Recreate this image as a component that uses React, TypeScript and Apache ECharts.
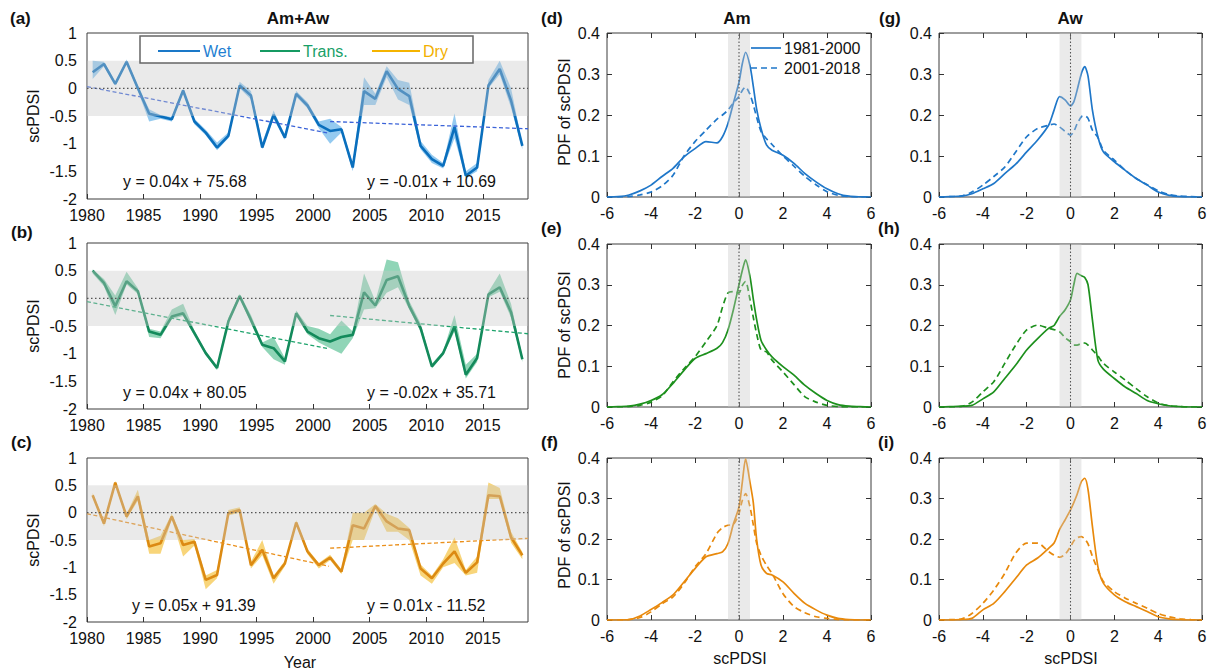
import React, { useEffect, useRef } from "react";
import * as echarts from "echarts";

const FONT = '"Liberation Sans", Arial, Helvetica, sans-serif';
const OVERLAY = "rgba(200,200,200,0.38)";

const YEARS = Array.from({ length: 39 }, (_, i) => 1980 + i);

const WET = [0.29, 0.44, 0.08, 0.48, 0.0, -0.46, -0.51, -0.56, -0.04, -0.6,
  -0.8, -1.07, -0.86, 0.05, -0.13, -1.07, -0.48, -0.89, -0.1, -0.31,
  -0.66, -0.77, -0.74, -1.43, -0.05, -0.19, 0.31, -0.01, -0.14, -1.04,
  -1.28, -1.4, -0.7, -1.58, -1.43, 0.05, 0.35, -0.22, -1.04];
const WET_LO = [0.17, 0.4, 0.05, 0.45, -0.05, -0.6, -0.55, -0.6, -0.08, -0.65,
  -0.85, -1.12, -0.9, 0.0, -0.2, -1.1, -0.55, -0.93, -0.15, -0.36,
  -0.72, -1.0, -0.8, -1.5, -0.3, -0.3, 0.2, -0.2, -0.3, -1.1,
  -1.35, -1.45, -0.9, -1.62, -1.5, 0.0, 0.25, -0.35, -1.1];
const WET_HI = [0.5, 0.48, 0.12, 0.52, 0.05, -0.38, -0.48, -0.52, 0.0, -0.55,
  -0.75, -0.98, -0.8, 0.12, -0.05, -0.98, -0.4, -0.84, -0.05, -0.25,
  -0.6, -0.55, -0.7, -1.35, 0.2, -0.1, 0.4, 0.15, 0.1, -0.95,
  -1.2, -1.35, -0.45, -1.5, -1.35, 0.15, 0.5, 0.0, -1.0];

const TRANS = [0.5, 0.28, -0.14, 0.31, 0.13, -0.6, -0.66, -0.33, -0.27, -0.63,
  -0.99, -1.26, -0.42, 0.04, -0.39, -0.84, -0.9, -1.14, -0.27, -0.6,
  -0.72, -0.78, -0.7, -0.66, 0.11, -0.13, 0.33, 0.4, -0.14, -0.54,
  -1.23, -0.99, -0.51, -1.38, -1.08, 0.07, 0.2, -0.25, -1.1];
const TRANS_LO = [0.45, 0.22, -0.3, 0.25, 0.08, -0.7, -0.72, -0.38, -0.32, -0.68,
  -1.03, -1.3, -0.46, 0.0, -0.45, -0.88, -1.1, -1.2, -0.32, -0.65,
  -0.8, -0.9, -1.0, -0.72, -0.2, -0.18, 0.1, 0.2, -0.2, -0.6,
  -1.27, -1.03, -0.6, -1.45, -1.15, 0.02, 0.12, -0.35, -1.15];
const TRANS_HI = [0.52, 0.35, 0.05, 0.48, 0.18, -0.55, -0.6, -0.2, -0.1, -0.58,
  -0.95, -1.22, -0.35, 0.08, -0.3, -0.8, -0.7, -1.08, -0.22, -0.5,
  -0.55, -0.65, -0.4, -0.6, 0.45, -0.05, 0.7, 0.65, -0.05, -0.45,
  -1.18, -0.95, -0.3, -1.2, -1.0, 0.12, 0.45, -0.1, -1.05];

const DRY = [0.32, -0.2, 0.55, -0.07, 0.3, -0.62, -0.56, -0.07, -0.59, -0.53,
  -1.23, -1.14, -0.01, 0.05, -0.96, -0.68, -1.2, -0.93, -0.18, -0.71,
  -0.96, -0.82, -1.08, -0.23, -0.29, 0.12, -0.16, -0.29, -0.32, -1.02,
  -1.2, -0.93, -0.71, -1.1, -0.91, 0.32, 0.3, -0.45, -0.78];
const DRY_LO = [0.28, -0.25, 0.5, -0.12, 0.22, -0.75, -0.75, -0.12, -0.8, -0.6,
  -1.4, -1.2, -0.05, 0.0, -1.02, -0.78, -1.3, -0.98, -0.22, -0.76,
  -1.02, -0.87, -1.12, -0.5, -0.5, 0.06, -0.35, -0.35, -0.5, -1.15,
  -1.3, -1.0, -0.92, -1.15, -1.1, 0.25, 0.25, -0.55, -0.85];
const DRY_HI = [0.36, -0.15, 0.58, -0.02, 0.42, -0.5, -0.42, -0.02, -0.5, -0.48,
  -1.15, -1.05, 0.05, 0.1, -0.9, -0.5, -1.15, -0.88, -0.14, -0.66,
  -0.92, -0.77, -1.04, 0.0, 0.0, 0.16, -0.02, -0.1, -0.28, -0.95,
  -1.15, -0.85, -0.45, -1.05, -0.8, 0.55, 0.45, -0.35, -0.72];

const WET_TREND = [[[1980, 0.03], [2001.4, -0.81]], [[2001.5, -0.6], [2019, -0.73]]];
const TRANS_TREND = [[[1980, -0.06], [2001.4, -0.91]], [[2001.5, -0.31], [2019, -0.64]]];
const DRY_TREND = [[[1980, -0.02], [2001.4, -0.98]], [[2001.5, -0.65], [2019, -0.47]]];

const EQ_WET = ["y = 0.04x + 75.68", "y = -0.01x + 10.69"];
const EQ_TRANS = ["y = 0.04x + 80.05", "y = -0.02x + 35.71"];
const EQ_DRY = ["y = 0.05x + 91.39", "y = 0.01x - 11.52"];

const PDF_X = [-6, -5.5, -5, -4.5, -4, -3.5, -3, -2.5, -2, -1.5, -1, -0.75, -0.5, -0.25, 0, 0.15, 0.3, 0.5, 0.65, 0.8, 1, 1.25, 1.5, 2, 2.5, 3, 3.5, 4, 4.5, 5, 5.5, 6];

const AM_WET_1 = [0, 0.001, 0.005, 0.015, 0.029, 0.05, 0.07, 0.098, 0.118, 0.135, 0.132, 0.147, 0.18, 0.23, 0.28, 0.325, 0.353, 0.32, 0.27, 0.215, 0.167, 0.127, 0.114, 0.102, 0.082, 0.057, 0.037, 0.02, 0.008, 0.002, 0.0005, 0];
const AM_WET_2 = [0, 0, 0.001, 0.005, 0.012, 0.027, 0.053, 0.1, 0.135, 0.163, 0.19, 0.2, 0.212, 0.23, 0.245, 0.26, 0.268, 0.25, 0.225, 0.195, 0.16, 0.142, 0.128, 0.1, 0.075, 0.05, 0.03, 0.013, 0.004, 0.001, 0, 0];
const AW_WET_1 = [0, 0.001, 0.002, 0.008, 0.02, 0.033, 0.057, 0.08, 0.11, 0.139, 0.175, 0.212, 0.245, 0.237, 0.222, 0.232, 0.26, 0.302, 0.318, 0.295, 0.212, 0.147, 0.11, 0.086, 0.065, 0.045, 0.029, 0.012, 0.004, 0.001, 0, 0];
const AW_WET_2 = [0, 0.001, 0.002, 0.012, 0.029, 0.05, 0.073, 0.11, 0.147, 0.167, 0.175, 0.178, 0.171, 0.16, 0.151, 0.16, 0.178, 0.196, 0.198, 0.192, 0.163, 0.145, 0.114, 0.09, 0.065, 0.045, 0.03, 0.015, 0.006, 0.002, 0.001, 0];
const AM_TR_1 = [0, 0.001, 0.002, 0.007, 0.016, 0.03, 0.058, 0.09, 0.119, 0.131, 0.144, 0.158, 0.189, 0.24, 0.3, 0.335, 0.361, 0.32, 0.265, 0.215, 0.164, 0.14, 0.123, 0.099, 0.078, 0.053, 0.033, 0.016, 0.006, 0.002, 0.001, 0];
const AM_TR_2 = [0, 0, 0.001, 0.004, 0.012, 0.027, 0.062, 0.094, 0.123, 0.16, 0.2, 0.245, 0.28, 0.283, 0.28, 0.298, 0.308, 0.263, 0.22, 0.18, 0.14, 0.135, 0.115, 0.086, 0.055, 0.025, 0.012, 0.004, 0.001, 0, 0, 0];
const AW_TR_1 = [0, 0.001, 0.002, 0.004, 0.02, 0.037, 0.07, 0.103, 0.14, 0.168, 0.193, 0.2, 0.222, 0.238, 0.263, 0.3, 0.328, 0.322, 0.318, 0.3, 0.214, 0.115, 0.093, 0.07, 0.049, 0.033, 0.016, 0.008, 0.003, 0.001, 0, 0];
const AW_TR_2 = [0, 0, 0.001, 0.012, 0.037, 0.062, 0.107, 0.152, 0.189, 0.201, 0.193, 0.19, 0.185, 0.17, 0.16, 0.152, 0.152, 0.156, 0.157, 0.152, 0.14, 0.125, 0.107, 0.086, 0.066, 0.045, 0.025, 0.01, 0.003, 0.001, 0, 0];
const AM_DR_1 = [0, 0, 0.001, 0.01, 0.026, 0.043, 0.062, 0.094, 0.127, 0.156, 0.164, 0.168, 0.189, 0.238, 0.279, 0.34, 0.398, 0.34, 0.29, 0.2, 0.136, 0.115, 0.111, 0.094, 0.066, 0.041, 0.025, 0.012, 0.004, 0.001, 0, 0];
const AM_DR_2 = [0, 0, 0.001, 0.006, 0.02, 0.04, 0.057, 0.09, 0.131, 0.164, 0.214, 0.228, 0.234, 0.236, 0.263, 0.295, 0.312, 0.279, 0.235, 0.19, 0.16, 0.135, 0.115, 0.065, 0.033, 0.018, 0.008, 0.004, 0.001, 0, 0, 0];
const AW_DR_1 = [0, 0, 0.001, 0.004, 0.025, 0.041, 0.07, 0.103, 0.136, 0.153, 0.177, 0.19, 0.223, 0.247, 0.272, 0.29, 0.31, 0.342, 0.35, 0.322, 0.231, 0.132, 0.091, 0.062, 0.045, 0.033, 0.021, 0.008, 0.003, 0.001, 0, 0];
const AW_DR_2 = [0, 0.001, 0.002, 0.016, 0.041, 0.074, 0.115, 0.165, 0.19, 0.19, 0.169, 0.16, 0.155, 0.162, 0.181, 0.195, 0.203, 0.206, 0.2, 0.188, 0.157, 0.124, 0.095, 0.07, 0.054, 0.041, 0.029, 0.016, 0.008, 0.003, 0.001, 0];

const PERIODS = ["1981-2000", "2001-2018"];

export default function App() {
  const ref = useRef<HTMLDivElement>(null);
  useEffect(() => {
    const chart = echarts.init(ref.current!, undefined, { renderer: "svg" });
    const grid: any[] = [];
    const xAxis: any[] = [];
    const yAxis: any[] = [];
    const series: any[] = [];
    const labelStyle = { fontSize: 16, color: "#111", fontFamily: FONT };
    const noLine = { show: false, onZero: false };

    const overlaySeries = (xi: number, yi: number, x0: number, x1: number, y0: number, y1: number) => ({
      type: "custom", xAxisIndex: xi, yAxisIndex: yi, silent: true, z: 5,
      data: [[(x0 + x1) / 2, (y0 + y1) / 2]],
      renderItem: (_p: any, api: any) => {
        const a = api.coord([x0, y1]);
        const b = api.coord([x1, y0]);
        return { type: "rect", shape: { x: a[0], y: a[1], width: b[0] - a[0], height: b[1] - a[1] }, style: { fill: OVERLAY } };
      },
    });

    const tsRects = [[87, 33, 441, 166], [87, 243, 441, 166], [87, 458, 441, 164]];
    const tsData = [
      { vals: WET, lo: WET_LO, hi: WET_HI, line: "#0a6fbd", band: "rgba(77,166,230,0.6)", trend: "#3b63d8", trends: WET_TREND },
      { vals: TRANS, lo: TRANS_LO, hi: TRANS_HI, line: "#138a5b", band: "rgba(70,185,135,0.6)", trend: "#1ea36c", trends: TRANS_TREND },
      { vals: DRY, lo: DRY_LO, hi: DRY_HI, line: "#dc8a12", band: "rgba(245,190,50,0.65)", trend: "#ea8f1a", trends: DRY_TREND },
    ];
    tsData.forEach((d, k) => {
      const [l, t, w, h] = tsRects[k];
      const gi = grid.length;
      grid.push({ left: l, top: t, width: w, height: h, show: true, borderColor: "#3c3c3c", borderWidth: 1 });
      const xi = xAxis.length;
      xAxis.push({
        gridIndex: gi, type: "value", position: "bottom", min: 1980, max: 2019, interval: 5,
        axisLine: noLine, splitLine: { show: false },
        axisTick: { show: true, inside: true, length: 5, lineStyle: { color: "#333" } },
        axisLabel: { ...labelStyle, margin: 8, showMaxLabel: false, formatter: (v: number) => String(v) },
      });
      const yi = yAxis.length;
      yAxis.push({
        gridIndex: gi, type: "value", position: "left", min: -2, max: 1, interval: 0.5,
        axisLine: noLine, splitLine: { show: false }, axisTick: { show: false },
        axisLabel: { ...labelStyle, margin: 10 },
      });
      series.push({
        type: "custom", xAxisIndex: xi, yAxisIndex: yi, silent: true, z: 1,
        data: [[2000, 0]],
        renderItem: (_p: any, api: any) => {
          const pts: number[][] = [];
          for (let i = 0; i < YEARS.length; i++) pts.push(api.coord([YEARS[i] + 0.5, d.hi[i]]));
          for (let i = YEARS.length - 1; i >= 0; i--) pts.push(api.coord([YEARS[i] + 0.5, d.lo[i]]));
          return { type: "polygon", shape: { points: pts }, style: { fill: d.band } };
        },
      });
      series.push({
        type: "line", xAxisIndex: xi, yAxisIndex: yi, z: 3, showSymbol: false, symbol: "none",
        data: YEARS.map((yr, i) => [yr + 0.5, d.vals[i]]),
        lineStyle: { color: d.line, width: 2.6 },
      });
      d.trends.forEach((tr) => {
        series.push({
          type: "line", xAxisIndex: xi, yAxisIndex: yi, z: 4, symbol: "none",
          data: tr, lineStyle: { color: d.trend, width: 1.3, type: [4, 2.5] },
        });
      });
      series.push(overlaySeries(xi, yi, 1980, 2019, -0.5, 0.5));
      series.push({
        type: "line", xAxisIndex: xi, yAxisIndex: yi, z: 6, symbol: "none",
        data: [[1980, 0], [2019, 0]], lineStyle: { color: "#555", width: 1.2, type: [1.5, 2.5] },
      });
    });

    const pdfRects = [
      [607, 33, 264, 164], [939, 33, 263, 164],
      [607, 244, 264, 163], [939, 244, 263, 163],
      [607, 458, 264, 162], [939, 458, 263, 162],
    ];
    const pdfData = [
      { a: AM_WET_1, b: AM_WET_2, c: "#1f77c9" },
      { a: AW_WET_1, b: AW_WET_2, c: "#1f77c9" },
      { a: AM_TR_1, b: AM_TR_2, c: "#1d901d" },
      { a: AW_TR_1, b: AW_TR_2, c: "#1d901d" },
      { a: AM_DR_1, b: AM_DR_2, c: "#e8890c" },
      { a: AW_DR_1, b: AW_DR_2, c: "#e8890c" },
    ];
    pdfData.forEach((d, k) => {
      const [l, t, w, h] = pdfRects[k];
      const gi = grid.length;
      grid.push({ left: l, top: t, width: w, height: h, show: true, borderColor: "#3c3c3c", borderWidth: 1 });
      const tick = { show: true, inside: true, length: 5, lineStyle: { color: "#333" } };
      const xi = xAxis.length;
      xAxis.push({
        gridIndex: gi, type: "value", position: "bottom", min: -6, max: 6, interval: 2,
        axisLine: noLine, splitLine: { show: false }, axisTick: tick,
        axisLabel: { ...labelStyle, margin: 8 },
      });
      xAxis.push({
        gridIndex: gi, type: "value", position: "top", min: -6, max: 6, interval: 2,
        axisLine: noLine, splitLine: { show: false }, axisTick: tick, axisLabel: { show: false },
      });
      const yi = yAxis.length;
      yAxis.push({
        gridIndex: gi, type: "value", position: "left", min: 0, max: 0.4, interval: 0.1,
        axisLine: noLine, splitLine: { show: false }, axisTick: tick,
        axisLabel: { ...labelStyle, margin: 7 },
      });
      yAxis.push({
        gridIndex: gi, type: "value", position: "right", min: 0, max: 0.4, interval: 0.1,
        axisLine: noLine, splitLine: { show: false }, axisTick: tick, axisLabel: { show: false },
      });
      series.push({
        type: "line", xAxisIndex: xi, yAxisIndex: yi, z: 3, symbol: "none", smooth: 0.25,
        data: PDF_X.map((x, i) => [x, d.a[i]]), lineStyle: { color: d.c, width: 1.7 },
      });
      series.push({
        type: "line", xAxisIndex: xi, yAxisIndex: yi, z: 3, symbol: "none", smooth: 0.25,
        data: PDF_X.map((x, i) => [x, d.b[i]]), lineStyle: { color: d.c, width: 1.7, type: [6, 4] },
      });
      series.push(overlaySeries(xi, yi, -0.5, 0.5, 0, 0.4));
      series.push({
        type: "line", xAxisIndex: xi, yAxisIndex: yi, z: 6, symbol: "none",
        data: [[0, 0], [0, 0.4]], lineStyle: { color: "#555", width: 1.1, type: [1.5, 2] },
      });
    });

    const txt = (text: string, x: number, y: number, opts: any = {}) => ({
      type: "text", x, y, z: 100, rotation: opts.rotation || 0,
      style: {
        text, fontSize: opts.size || 16, fontWeight: opts.bold ? "bold" : "normal", fontFamily: FONT,
        fill: opts.color || "#111", align: opts.align || "left", verticalAlign: "middle",
      },
    });
    const bold = { bold: true, size: 17 };
    const graphic: any[] = [
      txt("(a)", 10, 18, bold), txt("(b)", 11, 232, bold), txt("(c)", 11, 442, bold),
      txt("(d)", 541, 18, bold), txt("(e)", 541, 228, bold), txt("(f)", 541, 442, bold),
      txt("(g)", 879, 18, bold), txt("(h)", 878, 228, bold), txt("(i)", 878, 442, bold),
      txt("Am+Aw", 298, 18, { ...bold, align: "center" }),
      txt("Am", 737, 18, { ...bold, align: "center" }),
      txt("Aw", 1070, 18, { ...bold, align: "center" }),
      txt("scPDSI", 33, 116, { align: "center", rotation: Math.PI / 2 }),
      txt("scPDSI", 33, 326, { align: "center", rotation: Math.PI / 2 }),
      txt("scPDSI", 33, 540, { align: "center", rotation: Math.PI / 2 }),
      txt("PDF of scPDSI", 564, 112, { align: "center", rotation: Math.PI / 2 }),
      txt("PDF of scPDSI", 564, 325, { align: "center", rotation: Math.PI / 2 }),
      txt("PDF of scPDSI", 564, 535, { align: "center", rotation: Math.PI / 2 }),
      txt("Year", 300, 662, { align: "center" }),
      txt("scPDSI", 740, 658, { align: "center" }),
      txt("scPDSI", 1071, 658, { align: "center" }),
      txt(EQ_WET[0], 123, 181), txt(EQ_WET[1], 367, 181),
      txt(EQ_TRANS[0], 123, 392), txt(EQ_TRANS[1], 367, 392),
      txt(EQ_DRY[0], 132, 605), txt(EQ_DRY[1], 367, 605),
      {
        type: "rect", z: 99, shape: { x: 140, y: 36, width: 333, height: 27 },
        style: { fill: "#fff", stroke: "#666", lineWidth: 1.5 },
      },
      { type: "line", z: 100, shape: { x1: 158, y1: 51, x2: 200, y2: 51 }, style: { stroke: "#1a78c8", lineWidth: 2.2 } },
      txt("Wet", 203, 51, { color: "#1f7fd2" }),
      { type: "line", z: 100, shape: { x1: 260, y1: 51, x2: 300, y2: 51 }, style: { stroke: "#159a62", lineWidth: 2.2 } },
      txt("Trans.", 303, 51, { color: "#18a068" }),
      { type: "line", z: 100, shape: { x1: 372, y1: 51, x2: 420, y2: 51 }, style: { stroke: "#f5b400", lineWidth: 2.2 } },
      txt("Dry", 423, 51, { color: "#f2b000" }),
      { type: "line", z: 100, shape: { x1: 751, y1: 48, x2: 781, y2: 48 }, style: { stroke: "#1f77c9", lineWidth: 1.7 } },
      txt(PERIODS[0], 784, 48),
      { type: "line", z: 100, shape: { x1: 751, y1: 68, x2: 781, y2: 68 }, style: { stroke: "#1f77c9", lineWidth: 1.7, lineDash: [6, 4] } },
      txt(PERIODS[1], 784, 68),
    ];

    chart.setOption({
      animation: false,
      backgroundColor: "#fff",
      textStyle: { fontFamily: FONT },
      grid, xAxis, yAxis, series, graphic,
    });
    return () => chart.dispose();
  }, []);
  return <div ref={ref} style={{ position: "absolute", left: 0, top: 0, width: 1216, height: 672 }} />;
}
